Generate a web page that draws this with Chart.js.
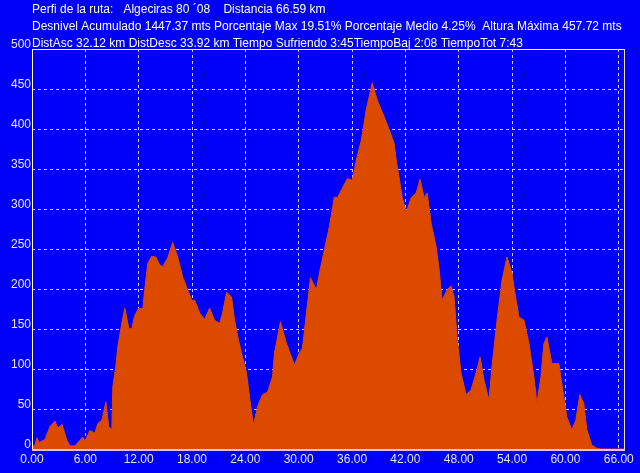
<!DOCTYPE html>
<html>
<head>
<meta charset="utf-8">
<script src="https://cdn.jsdelivr.net/npm/chart.js@4.4.1/dist/chart.umd.min.js"></script>
<style>
  html, body { margin: 0; padding: 0; background: #0000fa; }
  #wrap { width: 640px; height: 473px; }
</style>
</head>
<body>
<div id="wrap"><canvas id="perfilChart" width="640" height="473"></canvas></div>
<script>
// header lines
var headerLines = [
  'Perfi de la ruta:   Algeciras 80 \u00b408    Distancia 66.59 km',
  'Desnivel Acumulado 1447.37 mts Porcentaje Max 19.51% Porcentaje Medio 4.25%  Altura M\u00e1xima 457.72 mts',
  'DistAsc 32.12 km DistDesc 33.92 km Tiempo Sufriendo 3:45TiempoBaj 2:08 TiempoTot 7:43'
];

// distance (km)
var distKm = [
  0, 0.34, 0.56, 0.79, 1.12, 1.46, 2.02, 2.58, 2.92, 3.37, 3.93, 4.27, 4.83, 5.39, 5.72, 5.95,
  6.51, 7.07, 7.41, 7.86, 8.31, 8.64, 8.98, 9.09, 9.43, 9.65, 10.10, 10.44, 10.89, 11.22, 11.56,
  12.01, 12.46, 12.68, 13.02, 13.47, 13.92, 14.37, 14.70, 15.27, 15.83, 16.39, 16.95, 17.51,
  17.96, 18.30, 18.86, 19.42, 19.98, 20.54, 21.10, 21.44, 21.89, 22.45, 22.79, 23.23, 23.68,
  24.13, 24.47, 24.92, 25.37, 25.93, 26.49, 27.05, 27.28, 27.95, 28.62, 29.52, 30.08, 30.42,
  30.87, 31.32, 31.99, 32.33, 32.89, 33.45, 34.01, 34.35, 34.91, 35.47, 36.03, 36.48, 37.04,
  37.60, 38.27, 38.84, 39.62, 40.18, 40.74, 40.97, 41.64, 42.09, 42.65, 43.21, 43.66, 44.11,
  44.45, 44.90, 45.46, 45.80, 46.13, 46.69, 47.14, 47.48, 47.82, 48.26, 48.83, 49.39, 49.95,
  50.40, 50.85, 51.41, 51.74, 52.31, 52.87, 53.43, 53.99, 54.21, 54.77, 55.34, 55.90, 56.46,
  56.80, 57.24, 57.58, 57.92, 58.48, 59.26, 59.60, 60.16, 60.72, 61.17, 61.62, 62.07, 62.41,
  62.97, 63.53, 64.00, 66.59
];

// altitude (m)
var altM = [
  3, 5, 14, 8, 10, 12, 28, 35, 26, 31, 11, 4, 4, 11, 15, 10,
  23, 20, 32, 36, 59, 28, 24, 78, 103, 128, 157, 176, 151, 150, 167,
  176, 175, 199, 232, 241, 240, 230, 228, 239, 258, 240, 215, 199,
  186, 186, 170, 162, 176, 161, 157, 170, 196, 190, 161, 136, 115,
  95, 65, 30, 53, 68, 71, 90, 120, 159, 132, 105, 120, 126,
  170, 214, 199, 220, 249, 278, 315, 314, 326, 338, 336, 361, 386,
  424, 457.72, 436, 415, 399, 382, 361, 315, 296, 314, 320, 337, 314,
  320, 282, 253, 224, 186, 199, 204, 190, 140, 95, 68, 74, 95,
  115, 86, 61, 103, 161, 211, 240, 220, 203, 165, 161, 132, 90,
  57, 90, 132, 140, 107, 107, 82, 40, 24, 36, 68, 57, 24,
  5, 1, 0, 0
];

var xMin = 0, xMax = 66.59, xStep = 6;
var yMin = 0, yMax = 500, yStep = 50;

var points = distKm.map(function (d, i) { return { x: d, y: altM[i] }; });

var labelFont = { family: 'Arial, "Liberation Sans", sans-serif', size: 12 };
var gridCol = 'rgba(225,225,235,0.9)';

// background, header text and the axis/frame lines
var framePlugin = {
  id: 'framePlugin',
  beforeDraw: function (chart) {
    var c = chart.ctx;
    c.save();
    c.fillStyle = '#0000fa';
    c.fillRect(0, 0, chart.width, chart.height);
    c.restore();
  },
  afterDraw: function (chart) {
    var c = chart.ctx;
    var a = chart.chartArea;
    c.save();
    c.fillStyle = '#ffffff';
    c.font = '12px Arial, "Liberation Sans", sans-serif';
    c.textBaseline = 'middle';
    c.textAlign = 'left';
    var ys = [10, 27, 44];
    headerLines.forEach(function (t, i) { c.fillText(t, 32, ys[i]); });
    c.setLineDash([]);
    c.lineWidth = 1;
    // top border
    c.strokeStyle = '#f0f0ff';
    c.beginPath();
    c.moveTo(a.left, a.top + 0.5);
    c.lineTo(a.right, a.top + 0.5);
    c.stroke();
    // left axis
    c.strokeStyle = '#ffffff';
    c.beginPath();
    c.moveTo(a.left + 0.5, a.top);
    c.lineTo(a.left + 0.5, a.bottom);
    c.stroke();
    // right border
    c.strokeStyle = '#e8e8a0';
    c.beginPath();
    c.moveTo(a.right + 0.5, a.top);
    c.lineTo(a.right + 0.5, a.bottom);
    c.stroke();
    // bottom axis
    c.strokeStyle = '#d0c8ee';
    c.lineWidth = 2;
    c.beginPath();
    c.moveTo(a.left, a.bottom + 1);
    c.lineTo(a.right + 1, a.bottom + 1);
    c.stroke();
    c.restore();
  }
};

var ctx = document.getElementById('perfilChart').getContext('2d');
var chart = new Chart(ctx, {
  type: 'line',
  data: {
    datasets: [{
      data: points,
      backgroundColor: '#dc4a00',
      borderColor: '#dc4a00',
      borderWidth: 1,
      pointRadius: 0,
      tension: 0,
      fill: 'origin'
    }]
  },
  options: {
    responsive: false,
    animation: false,
    events: [],
    layout: { padding: { top: 49, right: 16, left: 0, bottom: 0 } },
    plugins: {
      legend: { display: false },
      tooltip: { enabled: false }
    },
    scales: {
      x: {
        type: 'linear',
        min: xMin,
        max: xMax,
        z: 1,
        afterFit: function (s) { s.height = 24; },
        border: { display: false, dash: [3, 3] },
        grid: {
          drawTicks: false,
          color: function (c) { return c.tick && c.tick.value === 0 ? 'rgba(0,0,0,0)' : gridCol; }
        },
        ticks: {
          stepSize: xStep,
          includeBounds: false,
          autoSkip: false,
          maxRotation: 0,
          padding: 3,
          color: '#e6e6ff',
          font: labelFont,
          callback: function (v) { return Number(v).toFixed(2); }
        }
      },
      y: {
        min: yMin,
        max: yMax,
        z: 1,
        afterFit: function (s) { s.width = 32; },
        border: { display: false, dash: [3, 3] },
        grid: {
          drawTicks: false,
          color: function (c) {
            if (!c.tick) return gridCol;
            return (c.tick.value === 0 || c.tick.value === yMax) ? 'rgba(0,0,0,0)' : gridCol;
          }
        },
        ticks: {
          stepSize: yStep,
          padding: 1,
          labelOffset: -4,
          color: '#e6e6ff',
          font: labelFont
        }
      }
    }
  },
  plugins: [framePlugin]
});
</script>
</body>
</html>
